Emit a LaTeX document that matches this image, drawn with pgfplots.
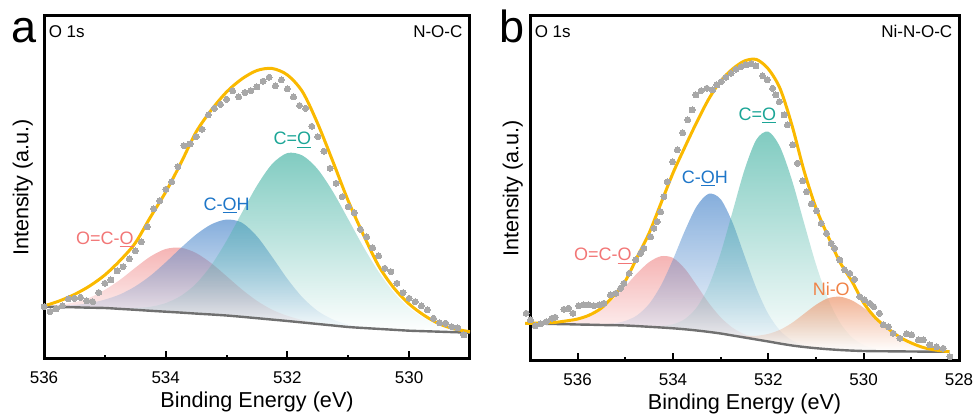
\documentclass[border=0pt]{standalone}
\usepackage{fontspec}
\setmainfont{Liberation Sans}
\usepackage{pgfplots}
\pgfplotsset{compat=1.18}
\usepgfplotslibrary{fillbetween}
\usetikzlibrary{fadings}

\definecolor{envc}{RGB}{250,185,0}
\definecolor{basec}{RGB}{112,112,112}
\definecolor{dotc}{RGB}{168,168,168}
\definecolor{coc}{RGB}{74,181,166}
\definecolor{cohc}{RGB}{81,139,205}
\definecolor{ococ}{RGB}{241,148,148}
\definecolor{nioc}{RGB}{236,148,105}
\definecolor{cot}{RGB}{27,165,150}
\definecolor{coht}{RGB}{30,118,200}
\definecolor{ocot}{RGB}{242,118,118}
\definecolor{niot}{RGB}{240,130,70}

\newcommand{\ul}[1]{\setbox0\hbox{#1}\rlap{\rule[-1.6pt]{\wd0}{0.6pt}}#1}

\pgfplotsset{
  xps/.style={
    scale only axis, set layers, clip=false,
    x dir=reverse, ymin=0, ytick=\empty,
    axis line style={line width=1.5pt},
    xtick pos=bottom, tick align=inside,
    major tick length=3.75pt, minor tick length=2pt,
    tick style={black, line width=1pt},
    /pgf/number format/assume math mode=true,
    xticklabel style={font=\fontsize{8.5}{10}\selectfont, yshift=-3pt},
    xlabel={Binding Energy (eV)}, ylabel={Intensity (a.u.)},
    label style={font=\fontsize{10.8}{13}\selectfont},
    xlabel style={at={(axis description cs:0.5,0)}, anchor=north, inner sep=0pt, yshift=-16.3pt},
  },
  comp/.style={draw=none, fill=#1, fill opacity=0.7, path fading=south},
  env/.style={envc, line width=1.5pt, smooth},
  bg/.style={basec, line width=1.2pt, smooth},
  pts/.style={only marks, color=dotc, mark=*, mark size=1.5pt, mark options={draw=dotc, fill=dotc, line width=0pt}},
  hide/.style={draw=none, smooth},
}
\tikzset{
  lab/.style={inner sep=0pt, font=\fontsize{9}{11}\selectfont},
  corner/.style={inner sep=0pt, font=\fontsize{8.5}{10}\selectfont},
  letter/.style={inner sep=0pt, anchor=base east, font=\fontsize{22.5}{27}\selectfont},
}

\begin{document}
\begin{tikzpicture}

% ---------------- panel a : N-O-C ----------------
\begin{axis}[xps, name=A, at={(22pt,29pt)}, anchor=south west,
  width=213pt, height=171.5pt,
  xmin=529, xmax=536, ymax=343,
  xtick={530,532,534,536}, minor xtick={531,533,535},
  ylabel style={at={(axis description cs:-0.025,0.5)}, anchor=south, inner sep=0pt}]

\addplot[hide, name path=a1] coordinates {
(536.00,53.2) (535.75,54.2) (535.50,56.7) (535.25,61.3) (535.00,69.1) (534.75,79.2)
(534.50,91.2) (534.25,102.5) (534.00,110.0) (533.75,111.3) (533.50,106.0) (533.25,95.8)
(533.00,82.9) (532.75,69.7) (532.50,58.2) (532.25,49.3) (532.00,43.2) (531.75,38.9)
(531.50,36.0) (531.25,33.9) (531.00,32.0) (530.75,31.0) (530.50,30.1) (530.25,29.2)
(530.00,28.3) (529.75,27.8) (529.50,27.3) (529.25,26.8) (529.00,26.3)};
\addplot[hide, name path=a2] coordinates {
(536.00,52.8) (535.75,53.1) (535.50,54.0) (535.25,55.8) (535.00,59.4) (534.75,64.6)
(534.50,72.6) (534.25,83.3) (534.00,96.6) (533.75,111.0) (533.50,124.4) (533.25,134.6)
(533.00,139.4) (532.75,136.4) (532.50,122.7) (532.25,102.1) (532.00,80.2) (531.75,61.5)
(531.50,48.0) (531.25,39.5) (531.00,34.4) (530.75,31.9) (530.50,30.4) (530.25,29.2)
(530.00,28.3) (529.75,27.8) (529.50,27.3) (529.25,26.8) (529.00,26.3)};
\addplot[hide, name path=a3] coordinates {
(536.00,52.3) (535.75,52.0) (535.50,51.7) (535.25,51.4) (535.00,51.3) (534.75,50.8)
(534.50,51.0) (534.25,52.2) (534.00,55.9) (533.75,63.1) (533.50,75.3) (533.25,93.8)
(533.00,118.1) (532.75,145.9) (532.50,173.3) (532.25,195.0) (532.00,205.9) (531.75,203.4)
(531.50,189.7) (531.25,167.2) (531.00,139.9) (530.75,112.2) (530.50,87.2) (530.25,66.6)
(530.00,51.2) (529.75,40.8) (529.50,34.2) (529.25,30.3) (529.00,27.9)};
\addplot[bg, name path=abase] coordinates {
(536.00,52.3) (535.75,52.0) (535.50,51.7) (535.25,51.3) (535.00,51.0) (534.75,50.1)
(534.50,49.2) (534.25,48.2) (534.00,47.3) (533.75,46.4) (533.50,45.4) (533.25,44.5)
(533.00,43.5) (532.75,42.2) (532.50,40.8) (532.25,39.4) (532.00,38.0) (531.75,36.5)
(531.50,35.0) (531.25,33.5) (531.00,32.0) (530.75,31.0) (530.50,30.1) (530.25,29.2)
(530.00,28.3) (529.75,27.8) (529.50,27.3) (529.25,26.8) (529.00,26.3)};

\addplot[comp=ococ] fill between[of=a1 and abase];
\addplot[comp=cohc] fill between[of=a2 and abase];
\addplot[comp=coc] fill between[of=a3 and abase];

\addplot[pts] coordinates {
(536.0,52.3) (535.9,47.3) (535.8,50) (535.7,53) (535.6,60) (535.5,60.7) (535.4,61.7)
(535.3,58.3) (535.2,57.3) (535.1,66.5) (535.0,75.7) (534.9,79) (534.8,88) (534.7,92.3)
(534.6,100) (534.5,108) (534.4,117) (534.3,132.3) (534.2,150.3) (534.1,158.2) (534.0,169.7)
(533.9,177) (533.8,192.3) (533.7,213.3) (533.6,215) (533.5,222.3) (533.4,229.7) (533.3,244)
(533.2,250.7) (533.1,254.7) (533.0,259.7) (532.9,268) (532.8,262) (532.7,266.5) (532.6,268.3)
(532.5,272) (532.4,277.8) (532.3,281.8) (532.2,273) (532.1,279) (532.0,270.2) (531.9,262)
(531.8,253.5) (531.7,250.7) (531.6,232.7) (531.5,222.3) (531.4,207.8) (531.3,190.7)
(531.2,175.7) (531.1,162.3) (531.0,152.3) (530.9,146.3) (530.8,129.7) (530.7,122.3)
(530.6,111.3) (530.5,103) (530.4,90.7) (530.3,87.3) (530.2,75.7) (530.1,66.3) (530.0,60.7)
(529.9,57.3) (529.8,53) (529.7,49) (529.6,40.7) (529.5,36.3) (529.4,35.7) (529.3,32.3)
(529.2,31) (529.1,24)};

\addplot[env] coordinates {
(536.00,53) (535.75,58) (535.50,64.5) (535.25,73) (535.00,84) (534.75,98.5) (534.50,116)
(534.25,142) (534.00,167) (533.75,196) (533.50,227) (533.25,249) (533.00,267) (532.75,280)
(532.50,288.5) (532.25,290.5) (532.00,284) (531.75,267) (531.50,235) (531.25,197)
(531.00,158) (530.75,124) (530.50,93) (530.25,71) (530.00,55) (529.75,43.5) (529.50,35)
(529.25,30) (529.00,27.3)};

\node[lab, ocot] at (axis cs:535.0,119.5) {O=C-\ul{O}};
\node[lab, coht] at (axis cs:533.0,153.5) {C-\ul{O}H};
\node[lab, cot] at (axis cs:531.92,219) {C=\ul{O}};
\node[corner, anchor=north west, xshift=2.2pt, yshift=-4.5pt] at (rel axis cs:0,1) {O 1s};
\node[corner, anchor=north east, xshift=-3.6pt, yshift=-4.5pt] at (rel axis cs:1,1) {N-O-C};
\node[letter, xshift=-3.7pt, yshift=-13.5pt] at (rel axis cs:0,1) {a};
\end{axis}

% ---------------- panel b : Ni-N-O-C ----------------
\begin{axis}[xps, name=B, at={(265pt,28pt)}, anchor=south west,
  width=214.5pt, height=172.5pt,
  xmin=528, xmax=537, ymax=345,
  xtick={528,530,532,534,536}, minor xtick={529,531,533,535},
  ylabel style={at={(axis description cs:-0.0157,0.5)}, anchor=south, inner sep=0pt}]

\addplot[hide, name path=b1] coordinates {
(537.10,37.7) (537.00,37.7) (536.75,37.6) (536.50,37.7) (536.25,38.7) (536.00,40.7)
(535.75,44.9) (535.50,51.7) (535.25,62.0) (535.00,74.7) (534.75,87.9) (534.50,98.9)
(534.25,104.8) (534.00,103.1) (533.75,92.2) (533.50,75.5) (533.25,58.1) (533.00,43.7)
(532.75,33.3) (532.50,26.8) (532.25,22.7) (532.00,19.9) (531.75,17.4) (531.50,15.5)
(531.25,14.0) (531.00,12.8) (530.75,11.8) (530.50,11.0) (530.25,10.4) (530.00,10.0)
(529.75,9.8) (529.50,9.7) (529.25,9.6) (529.00,9.5) (528.75,9.4) (528.50,9.35)
(528.25,9.3) (528.20,9.3)};
\addplot[hide, name path=b2] coordinates {
(537.10,37.7) (537.00,37.6) (536.75,37.3) (536.50,37.0) (536.25,36.8) (536.00,36.5)
(535.75,36.5) (535.50,36.5) (535.25,37.5) (535.00,40.1) (534.75,45.8) (534.50,57.1)
(534.25,75.8) (534.00,101.5) (533.75,130.3) (533.50,154.9) (533.25,167.2) (533.00,161.8)
(532.75,138.3) (532.50,105.2) (532.25,72.6) (532.00,47.0) (531.75,30.2) (531.50,20.6)
(531.25,15.8) (531.00,13.3) (530.75,11.8) (530.50,11.0) (530.25,10.4) (530.00,10.0)
(529.75,9.8) (529.50,9.7) (529.25,9.6) (529.00,9.5) (528.75,9.4) (528.50,9.35)
(528.25,9.3) (528.20,9.3)};
\addplot[hide, name path=b3] coordinates {
(537.10,37.7) (537.00,37.6) (536.75,37.3) (536.50,37.0) (536.25,36.8) (536.00,36.5)
(535.75,36.3) (535.50,36.0) (535.25,35.8) (535.00,35.5) (534.75,35.0) (534.50,34.6)
(534.25,34.9) (534.00,36.7) (533.75,42.0) (533.50,53.7) (533.25,75.1) (533.00,107.9)
(532.75,149.3) (532.50,191.1) (532.25,221.4) (532.00,229.3) (531.75,213.6) (531.50,180.2)
(531.25,138.0) (531.00,96.6) (530.75,62.7) (530.50,38.7) (530.25,23.9) (530.00,15.9)
(529.75,12.1) (529.50,10.5) (529.25,9.9) (529.00,9.5) (528.75,9.4) (528.50,9.35)
(528.25,9.3) (528.20,9.3)};
\addplot[hide, name path=b4] coordinates {
(537.10,37.7) (537.00,37.6) (536.75,37.3) (536.50,37.0) (536.25,36.8) (536.00,36.5)
(535.75,36.3) (535.50,36.0) (535.25,35.8) (535.00,35.5) (534.75,34.9) (534.50,34.2)
(534.25,33.5) (534.00,32.7) (533.75,31.7) (533.50,30.5) (533.25,29.1) (533.00,27.5)
(532.75,26.1) (532.50,25.1) (532.25,25.2) (532.00,27.1) (531.75,31.3) (531.50,38.2)
(531.25,47.2) (531.00,56.2) (530.75,62.7) (530.50,64.3) (530.25,60.7) (530.00,53.2)
(529.75,43.3) (529.50,33.3) (529.25,24.7) (529.00,18.3) (528.75,14.0) (528.50,11.6)
(528.25,10.2) (528.20,10.0)};
\addplot[bg, name path=bbase] coordinates {
(537.10,37.7) (537.00,37.6) (536.75,37.3) (536.50,37.0) (536.25,36.8) (536.00,36.5)
(535.75,36.3) (535.50,36.0) (535.25,35.8) (535.00,35.5) (534.75,34.9) (534.50,34.2)
(534.25,33.5) (534.00,32.7) (533.75,31.7) (533.50,30.5) (533.25,29.1) (533.00,27.5)
(532.75,25.5) (532.50,23.5) (532.25,21.5) (532.00,19.5) (531.75,17.4) (531.50,15.5)
(531.25,14.0) (531.00,12.8) (530.75,11.8) (530.50,11.0) (530.25,10.4) (530.00,10.0)
(529.75,9.8) (529.50,9.7) (529.25,9.6) (529.00,9.5) (528.75,9.4) (528.50,9.35)
(528.25,9.3) (528.20,9.3)};

\addplot[comp=ococ] fill between[of=b1 and bbase];
\addplot[comp=cohc] fill between[of=b2 and bbase];
\addplot[comp=coc] fill between[of=b3 and bbase];
\addplot[comp=nioc] fill between[of=b4 and bbase];

\addplot[pts] coordinates {
(537.08,47.7) (536.99,41) (536.89,35) (536.78,37) (536.66,39.3) (536.54,42.7) (536.47,43.7)
(536.29,51.7) (536.19,52.7) (536.10,47.7) (535.98,55.3) (535.87,56) (535.77,56) (535.66,55.3)
(535.54,56) (535.45,57.7) (535.31,66) (535.20,67.7) (535.10,72.7) (535.03,77.7) (534.92,87.7)
(534.78,101) (534.68,107.7) (534.61,112.7) (534.47,124.3) (534.40,132.7) (534.33,139.3)
(534.26,149.3) (534.19,164.3) (534.12,179.3) (534.01,199.3) (533.91,211) (533.80,228.3)
(533.69,241) (533.60,251) (533.52,266) (533.41,270.3) (533.29,272.7) (533.17,271) (533.08,276)
(532.99,279.3) (532.89,283.7) (532.78,287.7) (532.68,291.7) (532.57,294.3) (532.47,296)
(532.36,297) (532.26,295) (532.12,285) (532.02,281) (531.91,272.7) (531.84,266) (531.77,259.3)
(531.67,246) (531.60,236) (531.49,216) (531.39,197.7) (531.28,180) (531.20,169.3) (531.10,157)
(530.99,150.3) (530.89,137.7) (530.78,127.7) (530.68,117.7) (530.61,112.7) (530.50,101)
(530.40,91) (530.29,87.7) (530.19,81.7) (530.08,64.3) (529.98,61) (529.87,57.7) (529.79,54.3)
(529.67,47.7) (529.59,36) (529.48,34.3) (529.38,27.7) (529.24,22.7) (529.10,27) (528.99,26)
(528.85,21) (528.75,21) (528.61,16) (528.47,14.3) (528.33,12.7) (528.19,4.3)};

\addplot[env] coordinates {
(537.10,37.5) (537.00,37.7) (536.75,38) (536.50,38.5) (536.25,40) (536.00,42) (535.75,46)
(535.50,53) (535.25,65) (535.00,80) (534.75,104) (534.50,128) (534.25,158) (534.00,188)
(533.75,214) (533.50,239) (533.25,262) (533.00,280) (532.75,292) (532.50,300) (532.25,301.5)
(532.00,292) (531.75,272) (531.50,235) (531.25,190) (531.00,153) (530.75,125) (530.50,99)
(530.25,80) (530.00,58) (529.75,43) (529.50,33) (529.25,24) (529.00,18) (528.75,13.5)
(528.50,11) (528.25,9.5) (528.20,9.3)};

\node[lab, ocot] at (axis cs:535.47,105) {O=C-\ul{O}};
\node[lab, coht] at (axis cs:533.33,182.5) {C-\ul{O}H};
\node[lab, cot] at (axis cs:532.23,245.5) {C=\ul{O}};
\node[lab, niot] at (axis cs:530.68,72) {Ni-O};
\node[corner, anchor=north west, xshift=2.2pt, yshift=-4.5pt] at (rel axis cs:0,1) {O 1s};
\node[corner, anchor=north east, xshift=-3.2pt, yshift=-4.5pt] at (rel axis cs:1,1) {Ni-N-O-C};
\node[letter, xshift=-2.4pt, yshift=-13.5pt] at (rel axis cs:0,1) {b};
\end{axis}

\pgfresetboundingbox
\path[use as bounding box] (0,0) rectangle (487pt,208.5pt);
\end{tikzpicture}
\end{document}
